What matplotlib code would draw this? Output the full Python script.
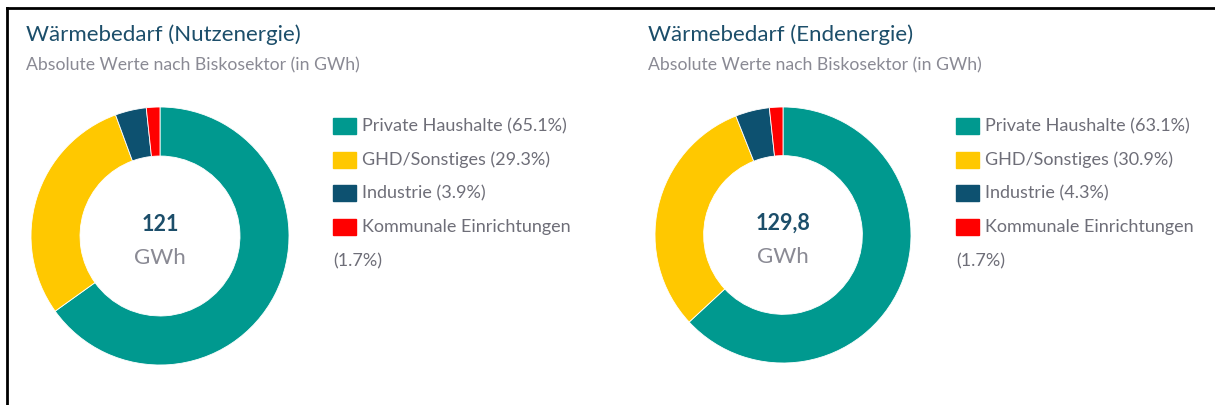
import matplotlib
matplotlib.use("Agg")
import matplotlib.pyplot as plt
from matplotlib.patches import Rectangle
from matplotlib.lines import Line2D

plt.rcParams['font.family'] = ['Lato', 'DejaVu Sans']

# data
sectors = ["Private Haushalte", "GHD/Sonstiges", "Industrie", "Kommunale Einrichtungen"]
colors = ["#00998f", "#ffc800", "#0d5170", "#ff0000"]

titles = ["Wärmebedarf (Nutzenergie)", "Wärmebedarf (Endenergie)"]
subtitle = "Absolute Werte nach Biskosektor (in GWh)"
shares_nutz = [65.1, 29.3, 3.9, 1.7]
shares_end = [63.1, 30.9, 4.3, 1.7]
totals = ["121", "129,8"]

W, H = 1215, 405
fig = plt.figure(figsize=(W / 100, H / 100), dpi=100)

def fx(x):
    return x / W

def fy(y):
    return 1 - y / H

title_col = "#1c4e6a"
grey = "#8a8a94"
legend_col = "#6e6e78"

panels = [
    dict(x0=26, cx=160, cy=236, r=129, lx=333, shares=shares_nutz),
    dict(x0=648, cx=783, cy=235, r=128, lx=956, shares=shares_end),
]

for i, p in enumerate(panels):
    fig.text(fx(p["x0"]), fy(41), titles[i], fontsize=16, color=title_col, va="baseline")
    fig.text(fx(p["x0"]), fy(70), subtitle, fontsize=12.7, color=grey, va="baseline")

    r = p["r"]
    ax = fig.add_axes([fx(p["cx"] - r), fy(p["cy"] + r), 2 * r / W, 2 * r / H])
    ax.pie(p["shares"], colors=colors, startangle=90, counterclock=False, radius=1,
           wedgeprops=dict(width=0.38, edgecolor="white", linewidth=0.6))
    ax.set_xlim(-1, 1)
    ax.set_ylim(-1, 1)
    ax.axis("off")
    ax.text(0, 0.09, totals[i], ha="center", va="center", fontsize=15.5,
            fontweight="bold", color=title_col)
    ax.text(0, -0.17, "GWh", ha="center", va="center", fontsize=16, color=grey)

    # legend
    rows = [126, 160, 193, 227]
    for j, name in enumerate(sectors):
        fig.patches.append(Rectangle((fx(p["lx"]), fy(rows[j] + 8)), 23 / W, 16 / H,
                                     transform=fig.transFigure, color=colors[j]))
        label = f"{name} ({p['shares'][j]}%)"
        if j == len(sectors) - 1:
            label = name
        fig.text(fx(p["lx"] + 29), fy(rows[j]), label, fontsize=13,
                 color=legend_col, va="center")
    fig.text(fx(p["lx"]), fy(261), f"({p['shares'][-1]}%)", fontsize=13,
             color=legend_col, va="center")

# frame lines
fig.lines.append(Line2D([fx(7), fx(7)], [fy(8), 0], transform=fig.transFigure,
                        color="black", linewidth=2))
fig.lines.append(Line2D([fx(7), 1], [fy(8), fy(8)], transform=fig.transFigure,
                        color="black", linewidth=2))

fig.savefig("out.png", dpi=100)
